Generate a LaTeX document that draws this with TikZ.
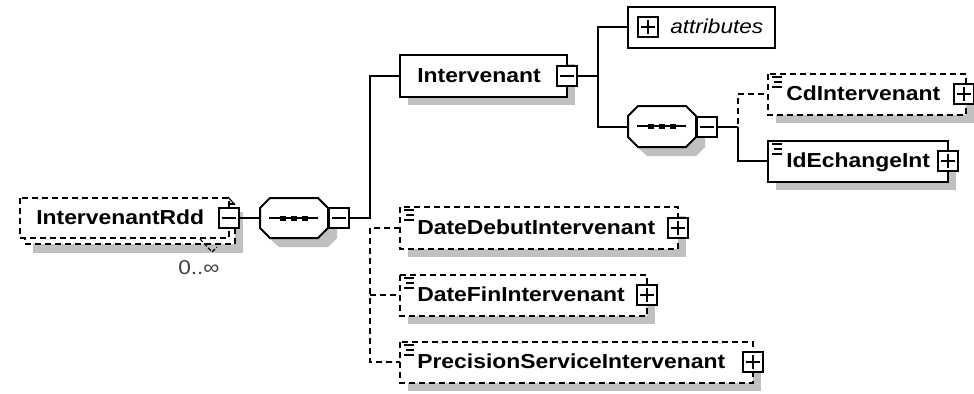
\documentclass[tikz,border=0pt]{standalone}
\usepackage{fontspec}
\setmainfont{Liberation Sans}
\newfontfamily\widefont[FakeStretch=1.13]{Liberation Sans}
\usetikzlibrary{shapes.geometric}
\definecolor{shadowgray}{RGB}{192,192,192}
\tikzset{
  x=0.75pt,y=-0.75pt,
  conn/.style={line width=1.5pt,black},
  dconn/.style={line width=1.3pt,black,dash pattern=on 4.5pt off 3pt},
  solidbox/.style={draw=black,line width=1.5pt,fill=white},
  dashbox/.style={draw=black,line width=1.3pt,dash pattern=on 4.5pt off 3pt,fill=white},
  toggle/.style={draw=black,line width=1.5pt,fill=white,minimum size=15pt,inner sep=0pt,outer sep=0pt},
  lbl/.style={font=\widefont\bfseries\fontsize{15.2pt}{17pt}\selectfont,anchor=base west,inner sep=0pt},
  iconline/.style={line width=1.1pt,black}
}
\newcommand{\plusmark}[1]{\draw[line width=1pt] ([xshift=-5pt]#1.center) -- ([xshift=5pt]#1.center) ([yshift=-5pt]#1.center) -- ([yshift=5pt]#1.center);}
\newcommand{\minusmark}[1]{\draw[line width=1pt] ([xshift=-5pt]#1.center) -- ([xshift=5pt]#1.center);}
\newcommand{\xbox}[5]{%
  \fill[shadowgray] (#1+8,#2+9) rectangle (#3+8,#4+8);
  \draw[#5] (#1,#2) rectangle (#3,#4);}
\newcommand{\docicon}[2]{%
  \draw[iconline] (#1+4,#2+3) -- (#1+14,#2+3) (#1+6,#2+8) -- (#1+14,#2+8) (#1+4,#2+13) -- (#1+14,#2+13);}
\newcommand{\octa}[4]{%
  \fill[shadowgray] (#1+19,#2+9) -- (#3,#2+9) -- (#3+9,#2+19) -- (#3+9,#4) -- (#3,#4+9) -- (#1+19,#4+9) -- (#1+9,#4) -- (#1+9,#2+19) -- cycle;
  \draw[solidbox] (#1+10,#2) -- (#3-10,#2) -- (#3,#2+10) -- (#3,#4-10) -- (#3-10,#4) -- (#1+10,#4) -- (#1,#4-10) -- (#1,#2+10) -- cycle;
  \draw[line width=1.1pt] (#1+9,#2+20) -- (#3-10,#2+20);
  \foreach \d in {23,34,45} \fill (#1+\d-3,#2+17.5) rectangle (#1+\d+3,#2+22.5);}
\begin{document}
\begin{tikzpicture}
\useasboundingbox (0,0) rectangle (974,393);
\fill[white] (0,0) rectangle (974,393);

% IntervenantRdd
\fill[shadowgray] (33,212) rectangle (243,253);
\draw[dashbox] (25,204) rectangle (235,244);
\draw[dashbox] (20,198) rectangle (229,238);
\draw[line width=0.9pt] (228,197) -- (235,205);
\draw[line width=0.9pt,dash pattern=on 3pt off 1.5pt] (200,239) -- (212,252) -- (217,247);
\node[lbl] (rdd) at (36,224) {IntervenantRdd};
\node[toggle] (rddt) at (229,218) {}; \minusmark{rddt}
\node[font=\widefont\fontsize{15pt}{17pt}\selectfont,text=black!75,anchor=base west,inner sep=0pt] (occ) at (178,274) {0..∞};

% sequence 1
\octa{260}{198}{328}{238}
\coordinate (oa) at (260,218);
\node[toggle] (at) at (339,218) {}; \minusmark{at}

% Intervenant
\xbox{400}{55}{567}{97}{solidbox}
\coordinate (iw) at (400,76);
\node[lbl] (i) at (417,82) {Intervenant};
\node[toggle] (it) at (567,76) {}; \minusmark{it}

% attributes
\draw[solidbox] (628,7) rectangle (775,48);
\coordinate (aw) at (628,27);
\node[toggle] (att) at (648,27) {}; \plusmark{att}
\node[font=\widefont\itshape\fontsize{15pt}{17pt}\selectfont,anchor=base west,inner sep=0pt] (attl) at (670,33) {attributes};

% sequence 2
\octa{628}{106}{696}{147}
\coordinate (ob) at (628,127);
\node[toggle] (bt) at (707,127) {}; \minusmark{bt}

% CdIntervenant
\xbox{768}{74}{966}{115}{dashbox}
\coordinate (cw) at (768,94);
\docicon{768}{74}
\node[lbl] (c) at (786,100) {CdIntervenant};
\node[toggle] (ct) at (964,94) {}; \plusmark{ct}

% IdEchangeInt
\xbox{768}{141}{948}{182}{solidbox}
\coordinate (dw) at (768,161);
\docicon{768}{141}
\node[lbl] (d) at (786,167) {IdEchangeInt};
\node[toggle] (dt) at (948,161) {}; \plusmark{dt}

% DateDebutIntervenant
\xbox{400}{207}{678}{249}{dashbox}
\coordinate (ew) at (400,228);
\docicon{400}{207}
\node[lbl] (e) at (417,234) {DateDebutIntervenant};
\node[toggle] (et) at (678,228) {}; \plusmark{et}

% DateFinIntervenant
\xbox{400}{275}{647}{316}{dashbox}
\coordinate (fw) at (400,295);
\docicon{400}{275}
\node[lbl] (f) at (417,301) {DateFinIntervenant};
\node[toggle] (ft) at (647,295) {}; \plusmark{ft}

% PrecisionServiceIntervenant
\xbox{400}{342}{753}{383}{dashbox}
\coordinate (gw) at (400,362);
\docicon{400}{342}
\node[lbl] (g) at (417,368) {PrecisionServiceIntervenant};
\node[toggle] (gt) at (753,362) {}; \plusmark{gt}

% connectors
\draw[conn] (rddt.east) -- (oa);
\draw[conn] (at.east) -- (370,218) -- (370,76) -- (iw);
\draw[conn] (it.east) -- (598,76);
\draw[conn] (aw) -| (598,127) -- (ob);
\draw[conn] (bt.east) -- (738,127);
\draw[conn] (738,127) |- (dw);
\draw[dconn] (738,124) |- (cw);
\draw[dconn] (ew) -| (370,362) -- (gw);
\draw[dconn] (370,295) -- (fw);
\end{tikzpicture}
\end{document}
